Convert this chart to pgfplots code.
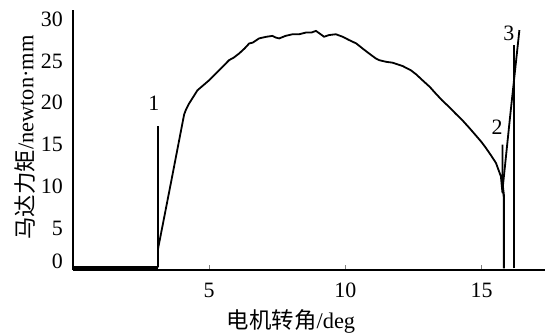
\documentclass[border=0pt]{standalone}
\usepackage{fontspec}
\setmainfont{Liberation Serif}
\newfontfamily\cjk{Noto Sans CJK SC}
\usepackage{pgfplots}
\pgfplotsset{compat=1.18}
\begin{document}
\begin{tikzpicture}
\begin{axis}[
  at={(0,0)}, anchor=south west,
  scale only axis, width=472bp, height=260bp,
  xmin=0, xmax=17.33, ymin=0, ymax=31.1,
  axis lines*=left,
  axis line style={line width=1.1bp},
  tick align=inside,
  major tick length=5bp,
  xtick={5,10,15},
  ytick={1,5,10,15,20,25,30},
  yticklabels={0,5,10,15,20,25,30},
  ytick style={draw=none},
  xtick style={line width=0.8bp},
  /pgf/number format/assume math mode=true,
  ticklabel style={font=\fontsize{22}{26}\selectfont, inner sep=0pt},
  yticklabel style={anchor=east, xshift=-10bp},
  xticklabel style={anchor=north, yshift=-13bp},
  xlabel={{\cjk 电机转角}/deg},
  ylabel={{\cjk 马达力矩}/newton·mm},
  label style={font=\fontsize{22.5}{26}\selectfont, inner sep=0pt},
  xlabel style={at={([yshift=-51bp]axis description cs:0.462,0)}, anchor=center},
  ylabel style={at={([xshift=-48bp]axis description cs:0,0.51)}, anchor=center},
  clip=false,
]
\addplot[black, line width=2.8bp] coordinates {(0,0.3) (3.12,0.3)};
\addplot[black, line width=1.8bp] coordinates {
(3.12,0.3) (3.12,17.2) (3.12,2.5) (3.6,10.5) (4.08,18.6) (4.15,19.2) (4.26,19.9) (4.57,21.5)
(5.0,22.7) (5.37,23.9) (5.73,25.1) (5.9,25.4) (6.1,25.9) (6.3,26.5) (6.47,27.1) (6.6,27.2) (6.83,27.7)
(7.1,27.9) (7.32,28.0) (7.45,27.8) (7.57,27.7) (7.8,28.0) (8.06,28.2) (8.3,28.2) (8.55,28.4)
(8.75,28.4) (8.92,28.6) (9.05,28.3) (9.22,27.9) (9.4,28.1) (9.65,28.2) (9.9,27.9) (10.14,27.5)
(10.4,27.1) (10.63,26.5) (10.87,25.9) (11.12,25.3) (11.24,25.1) (11.5,24.9) (11.73,24.8)
(12.1,24.4) (12.4,23.9) (12.6,23.4) (12.83,22.7) (13.1,21.9) (13.32,21.1) (13.55,20.3)
(13.81,19.5) (14.05,18.7) (14.3,17.9) (14.55,17.0) (14.79,16.1) (15.0,15.3) (15.16,14.6)
(15.35,13.7) (15.53,12.8) (15.71,11.2) (15.77,9.2) (15.77,15.0)};
\addplot[black, line width=2.2bp] coordinates {(15.76,10.5) (15.82,8.8) (15.82,0.2)};
\addplot[black, line width=1.8bp] coordinates {(15.77,9.6) (16.05,18.4) (16.39,28.7)};
\addplot[black, line width=1.6bp] coordinates {(16.2,0.2) (16.2,26.9)};
\node[font=\fontsize{22}{26}\selectfont] at (axis cs:2.97,20.0) {1};
\node[font=\fontsize{22}{26}\selectfont] at (axis cs:15.57,17.1) {2};
\node[font=\fontsize{22}{26}\selectfont] at (axis cs:16.0,28.3) {3};
\end{axis}
\pgfresetboundingbox
\path[use as bounding box] (-73bp,-63bp) rectangle (472bp,270bp);
\end{tikzpicture}
\end{document}
